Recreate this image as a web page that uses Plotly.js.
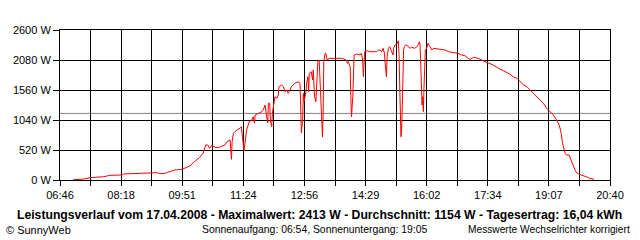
<!DOCTYPE html>
<html>
<head>
<meta charset="utf-8">
<script src="https://cdn.plot.ly/plotly-3.0.1.min.js"></script>
<style>html,body{margin:0;padding:0;background:#fff;}#chart{width:640px;height:240px;}</style>
</head>
<body>
<div id="chart"></div>
<script>
const day = '2008-04-17';
const times = ['07:06','07:19','07:32','07:52','08:02','08:20','08:22','08:40','08:52','09:05','09:13','09:18','09:25','09:29','09:40','09:51','09:56','10:03','10:08','10:13','10:18','10:23','10:27','10:30','10:33','10:36','10:41','10:46','10:51','10:56','10:59','11:04','11:06','11:07','11:09','11:14','11:19','11:21','11:25','11:28','11:29','11:33','11:37','11:39','11:41','11:42','11:47','11:52','11:54','11:57','11:59','12:01','12:02','12:04','12:05','12:07','12:08','12:12','12:15','12:17','12:18','12:22','12:25','12:27','12:30','12:32','12:35','12:37','12:42','12:47','12:50','12:51','12:52','12:54','12:55','12:56','12:59','13:00','13:02','13:03','13:04','13:07','13:09','13:10','13:12','13:14','13:15','13:17','13:19','13:20','13:22','13:24','13:25','13:26','13:28','13:29','13:31','13:35','13:43','13:53','14:00','14:02','14:03','14:06','14:07','14:08','14:10','14:11','14:12','14:16','14:21','14:23','14:25','14:26','14:27','14:28','14:32','14:36','14:46','14:49','14:51','14:54','14:56','14:58','14:59','15:00','15:01','15:02','15:04','15:06','15:09','15:11','15:12','15:14','15:17','15:19','15:20','15:21','15:22','15:23','15:24','15:25','15:26','15:27','15:28','15:30','15:32','15:34','15:37','15:39','15:44','15:47','15:49','15:51','15:52','15:53','15:54','15:55','15:56','15:57','15:58','15:59','16:00','16:02','16:04','16:07','16:10','16:12','16:22','16:30','16:35','16:45','16:49','16:55','17:00','17:05','17:08','17:13','17:20','17:25','17:31','17:36','17:43','17:51','17:56','18:03','18:08','18:13','18:19','18:24','18:29','18:34','18:39','18:44','18:49','18:54','18:59','19:04','19:09','19:14','19:19','19:23','19:26','19:28','19:32','19:34','19:38','19:41','19:44','19:48','19:52','19:57','20:04','20:09','20:16'];
const watts = [5,12,40,57,81,87,104,116,116,133,127,110,116,133,173,185,213,243,300,347,393,463,607,607,549,601,567,560,577,607,664,693,359,664,809,867,896,924,503,723,867,1011,1040,1097,983,1127,1156,1184,1213,1300,1127,988,1329,1329,1040,924,1156,1444,1416,1473,1617,1647,1617,1530,1560,1503,1560,1617,1676,1704,1676,1156,820,1069,1503,1357,1530,1676,1790,1530,1849,1877,1733,1907,1444,1357,1676,2050,2080,1849,1444,745,1156,2050,2196,2196,2080,2109,2109,2109,2080,2023,2050,1964,1444,1097,1444,1964,2167,2184,2167,2196,2080,1790,1993,2224,2241,2224,2224,2253,2253,2224,2283,2196,2023,1849,1790,2137,2283,2310,2224,2167,2283,2340,2357,2413,2196,1733,1156,750,867,1156,1733,2253,2310,2340,2340,2310,2283,2300,2283,2310,2340,2397,2340,2023,1560,1300,1444,1184,1617,2023,2253,2283,2370,2310,2253,2283,2270,2253,2224,2213,2196,2167,2154,2109,2092,2126,2109,2080,2050,2023,1993,1936,1907,1860,1837,1790,1763,1704,1647,1617,1560,1503,1444,1399,1329,1243,1184,1127,1040,953,809,636,463,433,433,347,231,144,104,87,57,29,12];
const average = 1154;
const axisStart = '06:46';
const axisEnd = '20:40';
const xTickLabels = ['06:46','08:18','09:51','11:24','12:56','14:29','16:02','17:34','19:07','20:40'];
const yTickValues = [0,520,1040,1560,2080,2600];
const titleLine = 'Leistungsverlauf vom 17.04.2008 - Maximalwert: 2413 W - Durchschnitt: 1154 W - Tagesertrag: 16,04 kWh';
const footerLeft = '\u00A9 SunnyWeb';
const footerMid = 'Sonnenaufgang: 06:54, Sonnenuntergang: 19:05';
const footerRight = 'Messwerte Wechselrichter korrigiert';

function toMs(t){const p=t.split(':');return Date.UTC(2008,3,17,+p[0],+p[1]);}
const x0 = toMs(axisStart), x1 = toMs(axisEnd);
const nGrid = (xTickLabels.length-1)*2;
const step = (x1-x0)/nGrid;
const tickvals=[], ticktext=[];
for(let i=0;i<=nGrid;i++){tickvals.push(x0+i*step);ticktext.push(i%2===0?xTickLabels[i/2]:'');}

const font = {family:'Liberation Sans, Arial, sans-serif', size:11, color:'#000'};
const trace = {x: times.map(t=>day+' '+t), y: watts, type:'scatter', mode:'lines',
  line:{color:'#ff0000', width:1}, hoverinfo:'skip'};
const layout = {
  width:640, height:240, margin:{l:60,r:30,t:30,b:60},
  paper_bgcolor:'#fff', plot_bgcolor:'#fff', showlegend:false, font:font,
  xaxis:{type:'date', range:[x0,x1], tickmode:'array', tickvals:tickvals, ticktext:ticktext,
    showgrid:true, gridcolor:'#000', gridwidth:1, showline:true, mirror:true, linecolor:'#000', linewidth:1,
    ticks:'outside', ticklen:5, tickcolor:'#000', tickfont:font, zeroline:false, fixedrange:true},
  yaxis:{range:[0,2600], tickmode:'array', tickvals:yTickValues, ticktext:yTickValues.map(v=>v+' W'),
    showgrid:true, gridcolor:'#000', gridwidth:1, showline:true, mirror:true, linecolor:'#000', linewidth:1,
    ticks:'outside', ticklen:6, tickcolor:'#000', tickfont:font, zeroline:false, fixedrange:true},
  shapes:[{type:'line', xref:'paper', x0:0, x1:1, yref:'y', y0:average, y1:average, line:{color:'#808080', width:1}, layer:'below'}],
  annotations:[
    {xref:'paper', yref:'paper', x:0.4727, y:-0.23, xanchor:'center', yanchor:'middle', showarrow:false, text:'<b>'+titleLine+'</b>', font:{family:font.family, size:12.2, color:'#000'}},
    {xref:'paper', yref:'paper', x:-0.1, y:-0.33, xanchor:'left', yanchor:'middle', showarrow:false, text:footerLeft, font:font, xshift:-1},
    {xref:'paper', yref:'paper', x:0.4636, y:-0.33, xanchor:'center', yanchor:'middle', showarrow:false, text:footerMid, font:{family:font.family, size:10.4, color:'#000'}},
    {xref:'paper', yref:'paper', x:1.04, y:-0.33, xanchor:'right', yanchor:'middle', showarrow:false, text:footerRight, font:{family:font.family, size:10.2, color:'#000'}}
  ]
};
Plotly.newPlot('chart',[trace],layout,{staticPlot:true, displayModeBar:false});
</script>
</body>
</html>
